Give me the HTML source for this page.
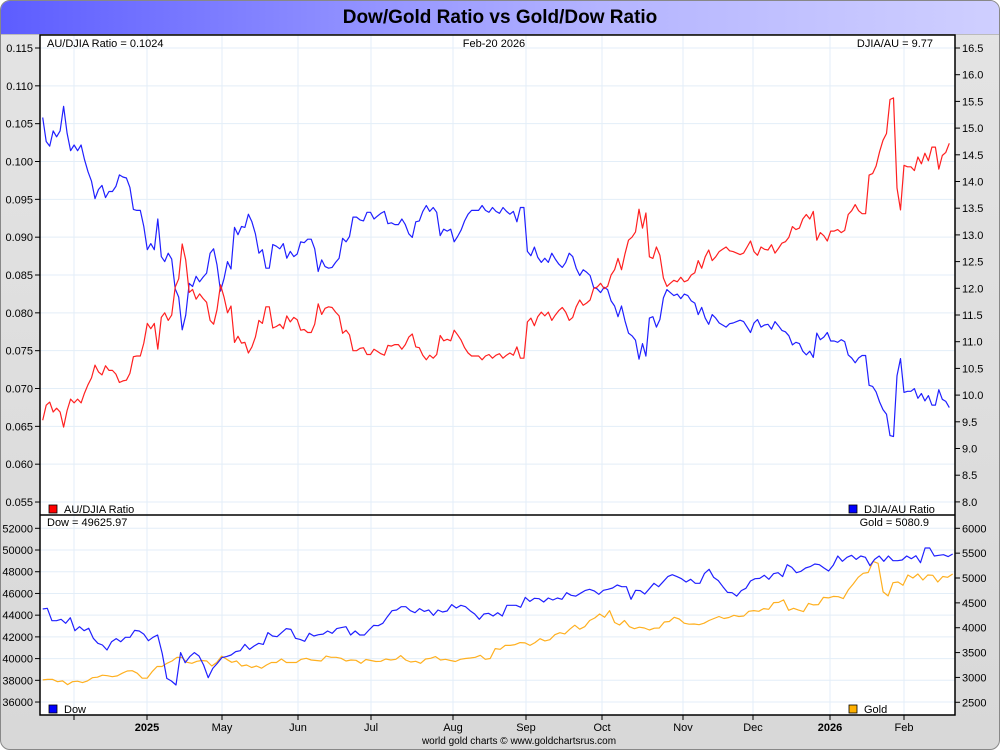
<!DOCTYPE html>
<html><head><meta charset="utf-8">
<style>
html,body{margin:0;padding:0;width:1000px;height:750px;overflow:hidden;background:#fff;font-family:"Liberation Sans",sans-serif;}
#frame{position:absolute;left:0;top:0;width:998px;height:748px;border:1px solid #888;border-radius:10px;background:linear-gradient(#e4e4e4,#d8d8d8);overflow:hidden;}
#titlebar{position:absolute;left:0;top:0;width:998px;height:33px;background:linear-gradient(90deg,#5d5dff,#b4b4ff 60%,#cfcfff);border-bottom:1px solid #bbb;text-align:center;font-weight:bold;font-size:19px;line-height:34px;color:#000;}
svg{position:absolute;left:0;top:0;}
</style></head><body>
<div id="frame">
<div id="titlebar">Dow/Gold Ratio vs Gold/Dow Ratio</div>
</div>
<svg id="chart" width="1000" height="750" xmlns="http://www.w3.org/2000/svg"></svg>
<script>
const ratioValues=[0.0658,0.0678,0.0682,0.0669,0.0674,0.0669,0.0649,0.0671,0.0686,0.0681,0.0686,0.0681,0.0694,0.0705,0.0714,0.0731,0.0722,0.0718,0.0730,0.0724,0.0724,0.0719,0.0708,0.0710,0.0711,0.0720,0.0742,0.0743,0.0743,0.0760,0.0786,0.0779,0.0786,0.0752,0.0794,0.0800,0.0790,0.0797,0.0834,0.0845,0.0891,0.0870,0.0827,0.0831,0.0818,0.0825,0.0819,0.0814,0.0790,0.0785,0.0804,0.0837,0.0821,0.0800,0.0809,0.0761,0.0769,0.0760,0.0761,0.0747,0.0755,0.0768,0.0790,0.0786,
0.0808,0.0808,0.0780,0.0782,0.0785,0.0779,0.0796,0.0788,0.0794,0.0791,0.0777,0.0778,0.0774,0.0774,0.0785,0.0812,0.0798,0.0806,0.0808,0.0807,0.0801,0.0796,0.0773,0.0777,0.0771,0.0750,0.0750,0.0753,0.0754,0.0745,0.0745,0.0752,0.0749,0.0746,0.0744,0.0757,0.0756,0.0758,0.0758,0.0752,0.0758,0.0768,0.0772,0.0755,0.0754,0.0744,0.0738,0.0744,0.0740,0.0745,0.0770,0.0763,0.0765,0.0763,0.0777,0.0771,0.0764,0.0754,0.0747,0.0743,0.0743,0.0743,0.0738,0.0743,0.0745,0.0740,
0.0744,0.0746,0.0740,0.0744,0.0747,0.0744,0.0755,0.0740,0.0740,0.0788,0.0793,0.0783,0.0795,0.0801,0.0796,0.0801,0.0790,0.0797,0.0803,0.0807,0.0801,0.0790,0.0794,0.0808,0.0817,0.0810,0.0813,0.0817,0.0832,0.0834,0.0839,0.0832,0.0835,0.0850,0.0857,0.0872,0.0857,0.0878,0.0896,0.0900,0.0907,0.0937,0.0912,0.0932,0.0874,0.0872,0.0887,0.0876,0.0846,0.0835,0.0839,0.0843,0.0841,0.0847,0.0841,0.0843,0.0850,0.0853,0.0869,0.0859,0.0874,0.0883,0.0869,0.0874,0.0881,0.0884,0.0887,0.0882,
0.0881,0.0879,0.0877,0.0879,0.0887,0.0895,0.0881,0.0876,0.0887,0.0884,0.0883,0.0890,0.0879,0.0885,0.0892,0.0894,0.0900,0.0914,0.0910,0.0912,0.0924,0.0930,0.0924,0.0934,0.0896,0.0906,0.0902,0.0895,0.0908,0.0908,0.0910,0.0906,0.0909,0.0930,0.0935,0.0943,0.0935,0.0931,0.0931,0.0982,0.0984,0.0994,0.1013,0.1028,0.1037,0.1082,0.1084,0.0965,0.0936,0.0995,0.0993,0.0993,0.0988,0.1006,0.0997,0.1011,0.1001,0.1019,0.1019,0.0990,0.1008,0.1012,0.1024];
const dowValues=[44570,44630,43490,43490,43620,43250,43770,42570,42940,42570,42790,41870,41410,41250,40790,41560,41840,41560,41960,41960,42600,42540,42260,41650,41960,42170,40480,38180,37940,37570,40550,39620,40180,40550,40240,39410,38240,39100,39560,40090,40180,40330,40640,40730,41310,40850,41160,41410,41310,42390,42080,42020,42390,42760,42690,41870,41770,41590,42330,42080,42200,42260,42540,42330,42760,42850,42940,42170,42540,42170,42170,42630,43060,43030,43250,
43860,44410,44480,44780,44780,44410,44230,44600,44350,44480,43980,44480,44290,44380,44970,44660,44910,44780,44410,44110,43620,44110,44170,43920,44230,43920,44910,44910,44910,44720,45640,45270,45550,45520,45210,45580,45400,45580,45460,46070,45830,45760,46010,46260,46380,46230,45920,46290,46380,46500,46780,46620,46620,45460,46290,46260,45950,46440,46930,46620,47080,47550,47730,
47550,47360,47050,47300,46930,46930,47850,48220,47480,47180,46620,46100,46070,45760,46260,46470,47150,47360,47390,47670,47300,47820,47910,47550,48650,48400,47910,48040,48340,48470,48710,48650,48340,48070,48590,49450,48960,49330,49510,49140,49450,49330,48560,49140,49450,48960,49450,49020,49020,49080,49450,49200,49480,48830,50190,50190,49450,49510,49570,49390,49630];
const goldValues=[2950,2960,2960,2915,2930,2855,2915,2925,2895,2930,2995,3005,3045,3035,3015,3030,3085,3130,3135,3085,2985,2985,3115,3220,3220,3285,3330,3405,3400,3305,3285,3325,3340,3330,3230,3300,3430,3365,3305,3330,3230,3250,3200,3230,3185,3250,3300,3300,3370,3300,3300,3300,3365,3385,3350,3340,3330,3430,3405,3405,3385,3330,3350,
3345,3285,3360,3340,3320,3325,3370,3350,3365,3440,3350,3310,3325,3285,3370,3385,3420,3350,3365,3340,3320,3365,3380,3390,3405,3445,3365,3380,3580,3565,3645,3645,3660,3700,3695,3645,3700,3780,3735,3760,3860,3900,3875,3970,4050,3970,4020,4145,4195,4275,4210,4345,4105,4055,4145,4020,3980,
4010,3995,3955,3990,3995,4115,4125,4210,4175,4090,4070,4075,4060,4090,4145,4185,4225,4185,4205,4250,4225,4235,4330,4345,4330,4385,4370,4505,4510,4560,4350,4390,4355,4325,4490,4460,4465,4610,4600,4630,4625,4585,4760,4880,5015,5095,5110,5335,5295,4720,4640,4905,4920,4855,5060,5000,5080,4960,5060,5055,4920,5030,5015,5080];
const leftTopTicks=[0.055,0.060,0.065,0.070,0.075,0.080,0.085,0.090,0.095,0.100,0.105,0.110,0.115];
const rightTopTicks=[8.0,8.5,9.0,9.5,10.0,10.5,11.0,11.5,12.0,12.5,13.0,13.5,14.0,14.5,15.0,15.5,16.0,16.5];
const dowTicks=[36000,38000,40000,42000,44000,46000,48000,50000,52000];
const goldTicks=[2500,3000,3500,4000,4500,5000,5500,6000];
const monthLabels=["","2025","May","Jun","Jul","Aug","Sep","Oct","Nov","Dec","2026","Feb"];
const monthPos=[74,147,222,298,371,453,526,602,683,753,830,904];

const svg=document.getElementById('chart');
const NS='http://www.w3.org/2000/svg';
const L=40,R=955,T1=35,B1=515,T2=515,B2=715;
const yRatio=v=>48+(0.115-v)*7567;
const yInv=v=>48+(16.5-v)*53.4;
const yDow=v=>528.3+(52000-v)/92.1;
const yGold=v=>528.3+(6000-v)*0.04971;
const xIdx=(i,n,x0,x1)=>x0+(x1-x0)*i/(n-1);
function mk(tag,attrs,parent){const e=document.createElementNS(NS,tag);for(const k in attrs)e.setAttribute(k,attrs[k]);(parent||svg).appendChild(e);return e;}
function txt(x,y,s,anchor,extra){const t=mk('text',Object.assign({x:x,y:y,'font-size':11,'font-family':'Liberation Sans, sans-serif','text-anchor':anchor||'start',fill:'#000'},extra||{}));t.textContent=s;return t;}

// plot backgrounds
const bg1=mk('rect',{x:L,y:T1,width:R-L,height:B1-T1,fill:'#fff'});


const bg2=mk('rect',{x:L,y:T2,width:R-L,height:B2-T2,fill:'#fff'});



const grid=mk('g',{stroke:'#e3eef8','stroke-width':1});


leftTopTicks.forEach(v=>{const y=yRatio(v);mk('line',{x1:L,x2:R,y1:y,y2:y},grid);});
dowTicks.forEach(v=>{const y=yDow(v);mk('line',{x1:L,x2:R,y1:y,y2:y},grid);});
monthPos.forEach(x=>{mk('line',{x1:x,x2:x,y1:T1,y2:B1},grid);mk('line',{x1:x,x2:x,y1:T2,y2:B2},grid);});

function line(vals,fy,x0,x1,color,name){
  const pts=vals.map((v,i)=>xIdx(i,vals.length,x0,x1).toFixed(1)+','+fy(v).toFixed(1)).join(' ');
  const p=mk('polyline',{points:pts,fill:'none',stroke:color,'stroke-width':1.2,'stroke-linejoin':'round'});
  
  
}
line(ratioValues.map(v=>1/v),yInv,42.7,949.3,'#2020ff','djia-au-ratio-line');
line(ratioValues,yRatio,42.7,949.3,'#ff2020','au-djia-ratio-line');
line(goldValues,yGold,42.7,952.7,'#ffb020','gold-line');
line(dowValues,yDow,42.7,952.7,'#2020ff','dow-line');

// borders
mk('rect',{x:L,y:T1,width:R-L,height:B2-T1,fill:'none',stroke:'#000','stroke-width':1.5});
mk('line',{x1:L,x2:R,y1:B1,y2:B1,stroke:'#000','stroke-width':1.5});

// ticks & labels
const ax=mk('g',{});


leftTopTicks.forEach(v=>{const y=yRatio(v);mk('line',{x1:L-5,x2:L,y1:y,y2:y,stroke:'#000'},ax);const t=txt(L-7,y+4,v.toFixed(3),'end');});
rightTopTicks.forEach(v=>{const y=yInv(v);mk('line',{x1:R,x2:R+5,y1:y,y2:y,stroke:'#000'},ax);const t=txt(R+7,y+4,v.toFixed(1),'start');});
dowTicks.forEach(v=>{const y=yDow(v);mk('line',{x1:L-5,x2:L,y1:y,y2:y,stroke:'#000'},ax);const t=txt(L-7,y+4,String(v),'end');});
goldTicks.forEach(v=>{const y=yGold(v);mk('line',{x1:R,x2:R+5,y1:y,y2:y,stroke:'#000'},ax);const t=txt(R+7,y+4,String(v),'start');});
monthLabels.forEach((s,i)=>{const x=monthPos[i];mk('line',{x1:x,x2:x,y1:B2,y2:B2+5,stroke:'#000'},ax);if(s){const bold=/^\d/.test(s);const t=txt(x,731,s,'middle',bold?{'font-weight':'bold'}:{});}});

// header/legend texts
txt(47,47,'AU/DJIA Ratio = 0.1024');
txt(494,47,'Feb-20  2026','middle');
txt(933,47,'DJIA/AU = 9.77','end');
txt(47,526,'Dow = 49625.97');
txt(929,526,'Gold = 5080.9','end');
function legend(x,y,color,label,name){const g=mk('g',{});mk('rect',{x:x,y:y-8,width:8,height:8,fill:color,stroke:'#000','stroke-width':0.8},g);const t=txt(x+15,y,label);g.appendChild(t);}
legend(49,513,'#ff0000','AU/DJIA Ratio','legend-au-djia');
legend(849,513,'#0000ff','DJIA/AU Ratio','legend-djia-au');
legend(49,713,'#0000ff','Dow','legend-dow');
legend(849,713,'#ffb000','Gold','legend-gold');
txt(519,744,'world gold charts © www.goldchartsrus.com','middle',{'font-size':10});
</script>
</body></html>
